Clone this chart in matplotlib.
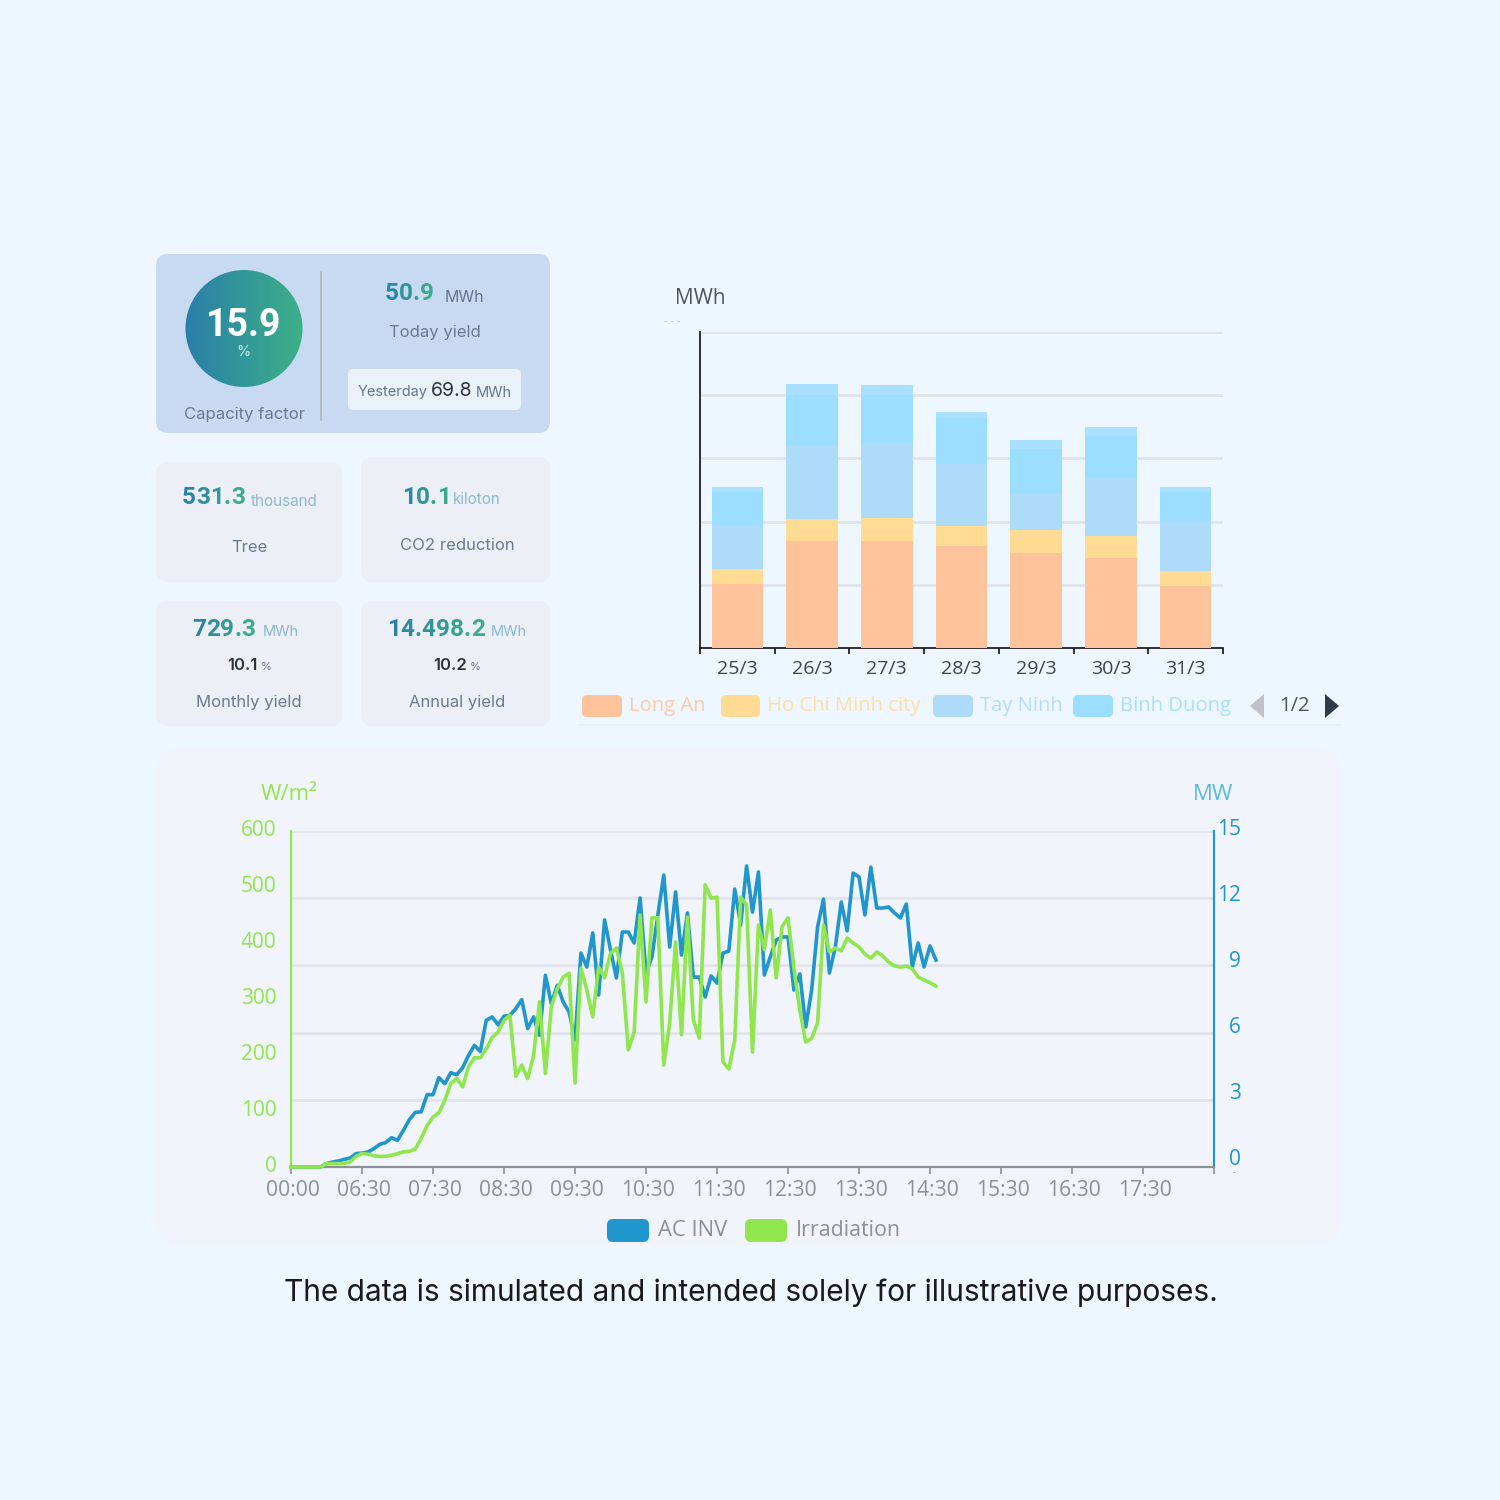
import numpy as np
import matplotlib
matplotlib.use('Agg')
import matplotlib.pyplot as plt
from matplotlib.patches import FancyBboxPatch, Circle, Polygon
from matplotlib.colors import LinearSegmentedColormap, to_rgb
from matplotlib.transforms import ScaledTranslation

# bar chart
days = ['25/3', '26/3', '27/3', '28/3', '29/3', '30/3', '31/3']
long_an = [20.3, 33.9, 33.9, 32.3, 30.1, 28.5, 19.6]
ho_chi_minh = [4.7, 7.0, 7.3, 6.3, 7.3, 7.0, 4.7]
tay_ninh = [13.9, 23.4, 23.7, 19.6, 11.7, 18.7, 15.5]
binh_duong = [10.4, 15.8, 15.2, 14.6, 14.0, 13.0, 9.5]
next_page = [1.6, 3.5, 3.2, 1.9, 2.8, 2.8, 1.6]

# line chart, one value every 5 minutes
time_labels = ['00:00', '06:30', '07:30', '08:30', '09:30', '10:30', '11:30',
               '12:30', '13:30', '14:30', '15:30', '16:30', '17:30']
ac_inv = [0, 0, 0, 0, 0, 0, 0.15, 0.22, 0.27, 0.34, 0.40, 0.60, 0.62, 0.67, 0.82, 1.01,
          1.09, 1.31, 1.19, 1.64, 2.11, 2.44, 2.46, 3.23, 3.23, 3.99, 3.72, 4.21, 4.12, 4.43,
          4.98, 5.43, 5.16, 6.55, 6.70, 6.35, 6.73, 6.77, 7.07, 7.47, 6.18, 6.70, 5.88, 8.56,
          7.29, 8.11, 7.37, 6.92, 5.67, 9.55, 8.93, 10.45, 7.68, 11.03, 9.69, 8.44, 10.49, 10.49,
          10.0, 12.01, 8.66, 9.37, 11.25, 13.03, 9.82, 12.28, 9.46, 11.34, 8.48, 8.48, 7.59, 8.53,
          8.21, 9.55, 9.64, 12.41, 10.80, 13.44, 11.38, 13.17, 8.57, 9.37, 10.13, 10.27, 10.27, 7.90,
          8.62, 6.25, 7.90, 10.71, 11.96, 8.66, 9.82, 11.83, 10.54, 13.12, 12.95, 11.25, 13.39, 11.56,
          11.56, 11.61, 11.34, 11.12, 11.74, 8.93, 10.0, 8.93, 9.87, 9.24]
irradiation = [0, 0, 0, 0, 0, 0, 6, 6, 6, 6.5, 9, 19, 24, 23, 20, 19,
               19, 21, 24, 27, 28, 32, 51, 74, 89, 97, 119, 149, 158, 143,
               179, 195, 195, 211, 231, 241, 262, 271, 162, 182, 158, 199, 295, 167,
               286, 318, 339, 346, 150, 355, 316, 268, 357, 338, 382, 391, 346, 209,
               241, 450, 295, 445, 445, 182, 257, 402, 236, 446, 263, 230, 504, 480,
               482, 188, 175, 227, 482, 468, 205, 432, 388, 459, 338, 429, 445, 355,
               280, 223, 230, 257, 432, 384, 391, 386, 409, 400, 393, 380, 373, 384,
               377, 366, 359, 357, 359, 354, 339, 334, 329, 323]

BG = '#EEF6FF'
BLUE = '#2196CC'
GREEN = '#90E64E'
GRID = '#E1E4EA'
GREY = '#8C9198'
SLATE = '#6B7A90'
GRAD_L = '#2A7FA8'
GRAD_R = '#3DB088'
CARD_FONT = 'Inter'
CHART_FONT = 'Open Sans'


def px_axes(fig, x0, y0, x1, y1):
    """Axes placed with pixel edges measured from the top left corner."""
    return fig.add_axes([x0 / 1500, 1 - y1 / 1500, (x1 - x0) / 1500, (y1 - y0) / 1500])


def card(ax, x0, y0, x1, y1, color, radius=10):
    ax.add_patch(FancyBboxPatch((x0, y0), x1 - x0, y1 - y0, linewidth=0, facecolor=color,
                                boxstyle=f'round,pad=0,rounding_size={radius}'))


def label(ax, x, y, s, size, color, ha='left', weight='normal', font=CARD_FONT):
    # va='center' leaves the glyphs a few px above the given y
    return ax.text(x, y + 4, s, fontsize=size, color=color, ha=ha, va='center',
                   fontweight=weight, family=font)


def gradient_text(ax, x, y, s, size=17.6, weight='semibold'):
    """Writes the string one character at a time, going from blue to green."""
    renderer = ax.figure.canvas.get_renderer()
    left, right = np.array(to_rgb(GRAD_L)), np.array(to_rgb(GRAD_R))

    def width(part):
        t = label(ax, 0, 0, part, size, 'k', weight=weight, font='Roboto')
        w = t.get_window_extent(renderer).width
        t.remove()
        return w

    total = width(s)
    for i, ch in enumerate(s):
        offset = width(s[:i]) if i else 0
        mix = (offset + width(ch) / 2) / total
        label(ax, x + offset, y, ch, size, tuple(left + (right - left) * mix),
              weight=weight, font='Roboto')


def draw_background(ax):
    ax.set_xlim(0, 1500)
    ax.set_ylim(1500, 0)
    ax.axis('off')

    card(ax, 156, 254, 550, 433, '#C8DAF2', 12)
    card(ax, 156, 462, 342, 582, '#ECF0F6', 12)
    card(ax, 361, 457, 550, 582, '#ECF0F6', 12)
    card(ax, 156, 601, 342, 726, '#ECF0F6', 12)
    card(ax, 361, 601, 550, 726, '#ECF0F6', 12)
    card(ax, 156, 748, 1340, 1245, '#F1F5FB', 28)
    card(ax, 348, 369, 521, 410, '#EAF1F9', 5)
    ax.plot([321, 321], [272, 420], color='#AEB6C0', lw=1.2)

    # capacity factor disc
    cmap = LinearSegmentedColormap.from_list('disc', [GRAD_L, GRAD_R])
    im = ax.imshow(np.linspace(0, 1, 128).reshape(1, -1), cmap=cmap, aspect='auto',
                   extent=(185, 303, 387, 269), zorder=2)
    im.set_clip_path(Circle((244, 328.5), 58.5, transform=ax.transData))
    ax.set_xlim(0, 1500)
    ax.set_ylim(1500, 0)

    t = label(ax, 244, 321, '15.9', 27, 'white', ha='center', weight='bold', font='Roboto')
    t.set_zorder(3)
    t = label(ax, 243, 348, '%', 10.5, '#CFE8EE', ha='center')
    t.set_zorder(3)
    label(ax, 244, 410, 'Capacity factor', 12, SLATE, ha='center')

    gradient_text(ax, 385, 290, '50.9')
    label(ax, 445, 293, 'MWh', 11.5, '#66778C')
    label(ax, 434.5, 328, 'Today yield', 12, SLATE, ha='center')
    label(ax, 358, 388, 'Yesterday', 10.5, '#66778C')
    label(ax, 431, 387, '69.8', 14, '#2C3440')
    label(ax, 476, 389, 'MWh', 10.5, '#66778C')

    gradient_text(ax, 182, 493, '531.3')
    label(ax, 251, 498, 'thousand', 11, '#8FB8D4')
    label(ax, 249, 544, 'Tree', 12, SLATE, ha='center')

    gradient_text(ax, 402, 493, '10.1')
    label(ax, 453, 495, 'kiloton', 11, '#8FB8D4')
    label(ax, 457, 542, 'CO2 reduction', 12, SLATE, ha='center')

    gradient_text(ax, 192, 625, '729.3')
    label(ax, 263, 628, 'MWh', 10.5, '#8FB8D4')
    label(ax, 227, 662, '10.1', 12, '#2C3440', weight='semibold')
    label(ax, 261, 663, '%', 8, '#66778C')
    label(ax, 249, 698, 'Monthly yield', 12, SLATE, ha='center')

    gradient_text(ax, 387, 625, '14.498.2')
    label(ax, 491, 628, 'MWh', 10.5, '#8FB8D4')
    label(ax, 433, 662, '10.2', 12, '#2C3440', weight='semibold')
    label(ax, 470, 663, '%', 8, '#66778C')
    label(ax, 457, 698, 'Annual yield', 12, SLATE, ha='center')

    # top chart captions and legend
    label(ax, 675, 294, 'MWh', 15, '#50555C', font=CHART_FONT)
    label(ax, 672, 318, '- - -', 8, '#B5BAC2', ha='center', font=CHART_FONT)

    legend_top = [(582, 622, 629, 'Long An', '#FFC39B', '#FFCBA8'),
                  (721, 760, 767, 'Ho Chi Minh city', '#FFDB94', '#FFE0A6'),
                  (933, 973, 980, 'Tay Ninh', '#ADDBF9', '#B4DEFA'),
                  (1073, 1113, 1120, 'Binh Duong', '#9CDEFF', '#AADFFF')]
    for x0, x1, tx, name, swatch, text_color in legend_top:
        card(ax, x0, 695, x1, 717, swatch, 5)
        label(ax, tx, 702, name, 14.6, text_color, font=CHART_FONT)
    ax.add_patch(Polygon([(1250, 706), (1264, 694), (1264, 718)], color='#BFC3C8', lw=0))
    label(ax, 1295, 702, '1/2', 14.6, '#50555C', ha='center', font=CHART_FONT)
    ax.add_patch(Polygon([(1339, 706), (1325, 694), (1325, 718)], color='#2F3A4A', lw=0))
    ax.plot([578, 1340], [725, 725], color='#E3F0FC', lw=1.2)

    # bottom chart captions and legend
    label(ax, 261, 790, 'W/m²', 16, GREEN, font=CHART_FONT)
    label(ax, 1193, 790, 'MW', 16, '#5CB8E2', font=CHART_FONT)
    label(ax, 1234, 1169, '-', 6, BLUE, ha='center', font=CHART_FONT)
    card(ax, 607, 1219, 649, 1242, BLUE, 6)
    label(ax, 658, 1226, 'AC INV', 15.8, GREY, font=CHART_FONT)
    card(ax, 745, 1219, 787, 1242, GREEN, 6)
    label(ax, 796, 1226, 'Irradiation', 15.4, GREY, font=CHART_FONT)

    label(ax, 751, 1289, 'The data is simulated and intended solely for illustrative purposes.',
          21.55, '#1A1A1A', ha='center')


def draw_bars(fig):
    ax = px_axes(fig, 700, 332, 1223, 648)
    ax.patch.set_visible(False)
    x = np.arange(len(days))
    bottom = np.zeros(len(days))
    series = [(long_an, '#FFC39B'), (ho_chi_minh, '#FFDB94'), (tay_ninh, '#ADDBF9'),
              (binh_duong, '#9CDEFF'), (next_page, '#A9E0FF')]
    for values, color in series:
        ax.bar(x, values, width=0.69, bottom=bottom, color=color, zorder=3)
        bottom += np.array(values)

    ax.set_xlim(-0.5, 6.5)
    ax.set_ylim(0, 100)
    ax.set_yticks(range(0, 101, 20))
    ax.set_yticklabels([])
    ax.tick_params(axis='y', length=0)
    ax.grid(axis='y', color=GRID, lw=2, zorder=1)
    ax.set_axisbelow(True)
    ax.set_xticks(np.arange(-0.5, 7, 1))
    ax.set_xticklabels([])
    ax.set_xticks(x, minor=True)
    ax.set_xticklabels(days, minor=True, fontsize=14, color='#3F444B', family=CHART_FONT)
    ax.tick_params(axis='x', which='major', length=4, width=1.3, color='#222222')
    ax.tick_params(axis='x', which='minor', length=0, pad=9)
    for side in ['top', 'right']:
        ax.spines[side].set_visible(False)
    ax.spines['left'].set_color('#222222')
    ax.spines['left'].set_linewidth(1.3)
    ax.spines['bottom'].set_color('#222222')
    ax.spines['bottom'].set_linewidth(1.3)


def draw_lines(fig):
    ax_left = px_axes(fig, 291, 831, 1214, 1167)
    ax_right = ax_left.twinx()
    ax_left.set_zorder(3)
    ax_right.set_zorder(2)
    ax_left.patch.set_visible(False)
    ax_right.patch.set_visible(False)

    ax_right.plot(range(len(ac_inv)), ac_inv, color=BLUE, lw=2.6, zorder=3,
                  clip_on=False, solid_joinstyle='round')
    ax_left.plot(range(len(irradiation)), irradiation, color=GREEN, lw=2.6, zorder=3,
                 clip_on=False, solid_joinstyle='round')

    ax_left.set_xlim(0, 156)
    ax_left.set_ylim(0, 600)
    ax_right.set_ylim(0, 15)
    ax_left.set_xticks(range(0, 157, 12))
    ax_left.set_xticklabels(time_labels + [''], fontsize=15.2, color=GREY, family=CHART_FONT)
    ax_left.tick_params(axis='x', length=5, width=1.2, color=GREY, pad=4.5)
    shift_x = ScaledTranslation(2 / 100, 0, fig.dpi_scale_trans)
    for lbl in ax_left.get_xticklabels():
        lbl.set_transform(lbl.get_transform() + shift_x)

    ax_left.set_yticks(range(0, 601, 100))
    ax_left.tick_params(axis='y', length=0, pad=10.5, labelsize=15, labelcolor=GREEN)
    ax_right.set_yticks(range(0, 16, 3))
    ax_right.tick_params(axis='y', length=0, pad=19.5, labelsize=15, labelcolor=BLUE)
    ax_right.grid(axis='y', color=GRID, lw=2)
    ax_right.set_axisbelow(True)

    shift_left = ScaledTranslation(0, 3 / 100, fig.dpi_scale_trans)
    for lbl in ax_left.get_yticklabels():
        lbl.set_family(CHART_FONT)
        lbl.set_transform(lbl.get_transform() + shift_left)
    # right labels are spaced a little tighter than the grid
    for lbl, up in zip(ax_right.get_yticklabels(), [10, 9, 8, 6, 5, 4]):
        lbl.set_family(CHART_FONT)
        lbl.set_ha('right')
        lbl.set_transform(lbl.get_transform() + ScaledTranslation(0, up / 100, fig.dpi_scale_trans))

    for ax in (ax_left, ax_right):
        ax.spines['top'].set_visible(False)
        ax.spines['left'].set_color(GREEN)
        ax.spines['left'].set_linewidth(1.5)
        ax.spines['right'].set_color(BLUE)
        ax.spines['right'].set_linewidth(1.5)
        ax.spines['bottom'].set_color(GREY)
        ax.spines['bottom'].set_linewidth(1.5)


def main():
    fig = plt.figure(figsize=(15, 15), dpi=100, facecolor=BG)
    back = fig.add_axes([0, 0, 1, 1])
    draw_background(back)
    draw_bars(fig)
    draw_lines(fig)
    fig.savefig('out.png', dpi=100, facecolor=BG)


if __name__ == "__main__":
    main()
